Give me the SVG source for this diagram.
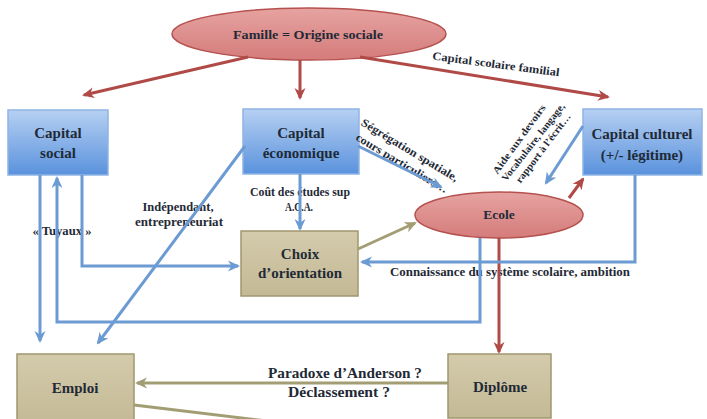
<svg xmlns="http://www.w3.org/2000/svg" width="707" height="419" viewBox="0 0 707 419">
<defs>
<linearGradient id="gBlue" x1="0" y1="0" x2="0" y2="1">
<stop offset="0" stop-color="#b6d0f2"/>
<stop offset="1" stop-color="#5a92dd"/>
</linearGradient>
<linearGradient id="gOlive" x1="0" y1="0" x2="0" y2="1">
<stop offset="0" stop-color="#d4cbac"/>
<stop offset="1" stop-color="#c3b995"/>
</linearGradient>
<linearGradient id="gRed" x1="0" y1="0" x2="0" y2="1">
<stop offset="0" stop-color="#e6a3a1"/>
<stop offset="1" stop-color="#d47c7b"/>
</linearGradient>
<marker id="aBlue" viewBox="0 0 12 12" refX="10" refY="6" markerWidth="12" markerHeight="12" markerUnits="userSpaceOnUse" orient="auto">
<path d="M0,0.5 L12,6 L0,11.5 L3.5,6 z" fill="#6c9bd3"/>
</marker>
<marker id="aRed" viewBox="0 0 12 12" refX="10" refY="6" markerWidth="12" markerHeight="12" markerUnits="userSpaceOnUse" orient="auto">
<path d="M0,0.5 L12,6 L0,11.5 L3.5,6 z" fill="#b04a47"/>
</marker>
<marker id="aOlive" viewBox="0 0 12 12" refX="10" refY="6" markerWidth="12" markerHeight="12" markerUnits="userSpaceOnUse" orient="auto">
<path d="M0,0.5 L12,6 L0,11.5 L3.5,6 z" fill="#a39d74"/>
</marker>
</defs>
<style>
text{font-family:"Liberation Serif","DejaVu Serif",serif;font-weight:bold;fill:#1f2a36;text-anchor:middle;dominant-baseline:central}
.node{font-size:15px}
.ell{font-size:13.5px}
.lbl{font-size:11.5px}
.sm{font-size:10px}
.big{font-size:14.5px}
.bbox{fill:url(#gBlue);stroke:#8fb4e4;stroke-width:1.5}
.obox{fill:url(#gOlive);stroke:#a0976f;stroke-width:1.5}
.rell{fill:url(#gRed);stroke:#b5514e;stroke-width:1.5}
.cb{fill:none;stroke:#6c9bd3;stroke-width:3}
.cr{fill:none;stroke:#b04a47;stroke-width:3}
.co{fill:none;stroke:#a39d74;stroke-width:3}
</style>
<rect width="707" height="419" fill="#ffffff"/>

<g id="famille">
<ellipse class="rell" cx="309" cy="34" rx="137" ry="26"/>
<text class="ell" x="308" y="34" textLength="150" lengthAdjust="spacingAndGlyphs">Famille = Origine sociale</text>
</g>
<g id="capital-social">
<rect class="bbox" x="8" y="110" width="100" height="65"/>
<text class="node" x="58" y="133">Capital</text>
<text class="node" x="58" y="153">social</text>
</g>
<g id="capital-economique">
<rect class="bbox" x="243" y="109" width="116" height="65"/>
<text class="node" x="301" y="133">Capital</text>
<text class="node" x="301" y="153">économique</text>
</g>
<g id="capital-culturel">
<rect class="bbox" x="583" y="109" width="119" height="66"/>
<text class="node" x="642" y="134">Capital culturel</text>
<text class="node" x="642" y="155">(+/- légitime)</text>
</g>
<g id="ecole">
<ellipse class="rell" cx="499" cy="215" rx="84" ry="23"/>
<text class="ell" x="499" y="214">Ecole</text>
</g>
<g id="choix">
<rect class="obox" x="241" y="231" width="117" height="65"/>
<text class="node" x="300" y="254">Choix</text>
<text class="node" x="300" y="273">d’orientation</text>
</g>
<g id="emploi">
<rect class="obox" x="17" y="354" width="117" height="72"/>
<text class="node" x="75" y="388">Emploi</text>
</g>
<g id="diplome">
<rect class="obox" x="448" y="354" width="103" height="64"/>
<text class="node" x="500" y="387">Diplôme</text>
</g>

<g id="labels">
<text class="lbl" transform="translate(496,64) rotate(7.5)" textLength="128" lengthAdjust="spacingAndGlyphs">Capital scolaire familial</text>
<text class="lbl" transform="translate(410,150) rotate(31)" textLength="111" lengthAdjust="spacingAndGlyphs">Ségrégation spatiale,</text>
<text class="lbl" transform="translate(402,163) rotate(31)" textLength="105" lengthAdjust="spacingAndGlyphs">cours particuliers…</text>
<text class="sm" transform="translate(519,139) rotate(-54)" textLength="83" lengthAdjust="spacingAndGlyphs">Aide aux devoirs</text>
<text class="sm" transform="translate(533,142) rotate(-52)" textLength="96" lengthAdjust="spacingAndGlyphs">Vocabulaire, langage,</text>
<text class="sm" transform="translate(543,148) rotate(-53)" textLength="84" lengthAdjust="spacingAndGlyphs">rapport à l’écrit…</text>
<text class="lbl" x="300" y="192" textLength="100" lengthAdjust="spacingAndGlyphs">Coût des études sup</text>
<text class="lbl" x="299" y="207" textLength="28" lengthAdjust="spacingAndGlyphs">A.C.A.</text>
<text class="lbl" x="178" y="207" textLength="71" lengthAdjust="spacingAndGlyphs">Indépendant,</text>
<text class="lbl" x="179" y="222" textLength="88" lengthAdjust="spacingAndGlyphs">entrepreneuriat</text>
<text class="lbl" x="62" y="231" textLength="59" lengthAdjust="spacingAndGlyphs">« Tuyaux »</text>
<text class="lbl" x="510" y="272" textLength="240" lengthAdjust="spacingAndGlyphs">Connaissance du système scolaire, ambition</text>
<text class="big" x="345" y="373" textLength="154" lengthAdjust="spacingAndGlyphs">Paradoxe d’Anderson ?</text>
<text class="big" x="339" y="392" textLength="102" lengthAdjust="spacingAndGlyphs">Déclassement ?</text>
</g>

<g id="connectors">
<path class="cr" d="M248,57 L84,95" marker-end="url(#aRed)"/>
<path class="cr" d="M300,60 L300,98" marker-end="url(#aRed)"/>
<path class="cr" d="M360,57 L608,97" marker-end="url(#aRed)"/>
<path class="cr" d="M499,238 L499,352" marker-end="url(#aRed)"/>
<path class="cr" d="M569,198 L583,179" marker-end="url(#aRed)"/>
<path class="cb" d="M583,126 L546,183" marker-end="url(#aBlue)"/>
<path class="cb" d="M358,146 L441,187" marker-end="url(#aBlue)"/>
<path class="cb" d="M300,174 L300,229" marker-end="url(#aBlue)"/>
<path class="cb" d="M245,146 L98,343" marker-end="url(#aBlue)"/>
<path class="cb" d="M82,175 L82,266 L238,266" marker-end="url(#aBlue)"/>
<path class="cb" d="M40,175 L40,341" marker-end="url(#aBlue)"/>
<path class="cb" d="M480,238 L480,322 L57,322 L57,178" marker-end="url(#aBlue)"/>
<path class="cb" d="M635,175 L635,262 L362,262" marker-end="url(#aBlue)"/>
<path class="co" d="M358,249 L415,223" marker-end="url(#aOlive)"/>
<path class="co" d="M448,383 L137,383" marker-end="url(#aOlive)"/>
<path class="co" d="M134,405 L300,425"/>
</g>
</svg>
